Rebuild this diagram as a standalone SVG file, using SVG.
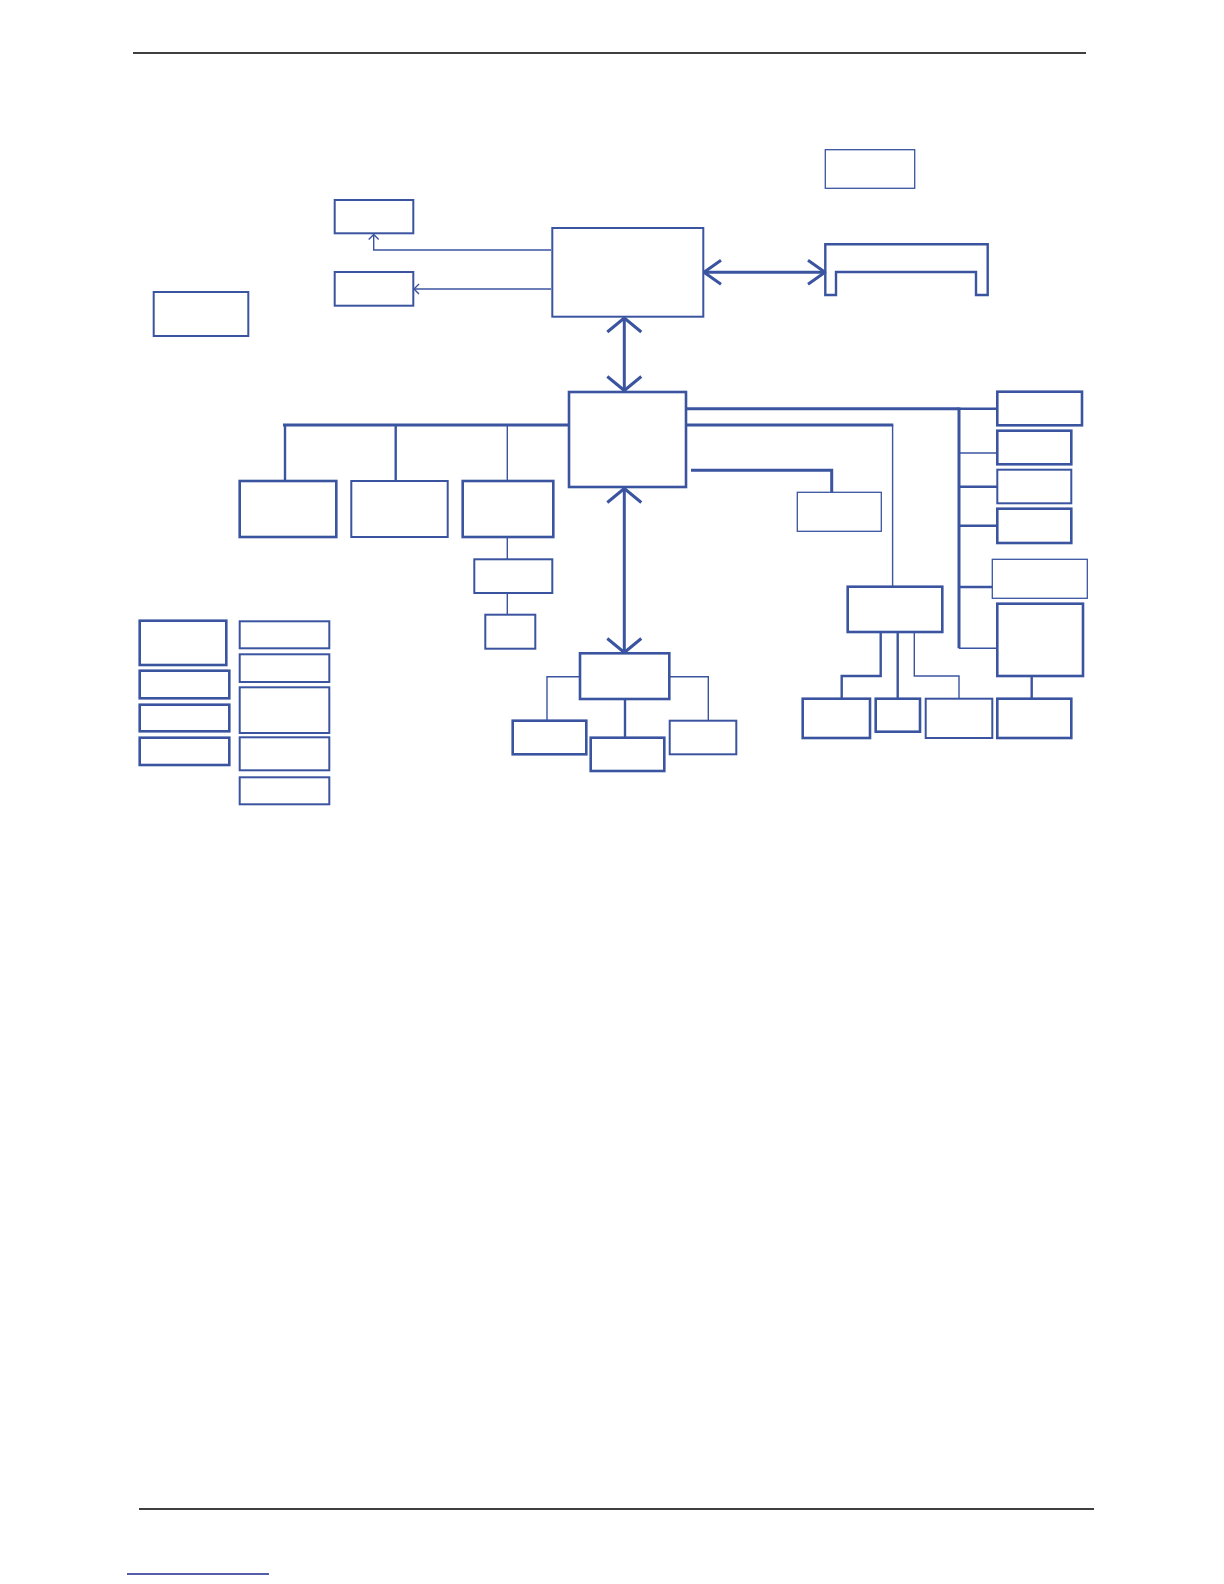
<svg xmlns="http://www.w3.org/2000/svg" width="1224" height="1584" viewBox="0 0 1224 1584">
<style>
.b{fill:#fff;stroke:#3b54a0;stroke-width:2}
.bk{fill:#fff;stroke:#3b54a0;stroke-width:2.6}
.bt{fill:#fff;stroke:#3b54a0;stroke-width:1.3}
.c{fill:none;stroke:#3b54a0;stroke-width:3;stroke-linejoin:miter}
.cm{fill:none;stroke:#3b54a0;stroke-width:2.4}
.ct{fill:none;stroke:#3b54a0;stroke-width:1.4}
</style>
<defs>
<marker id="av" markerUnits="userSpaceOnUse" markerWidth="50" markerHeight="50" viewBox="-25 -25 50 50" refX="0" refY="0" orient="auto-start-reverse" overflow="visible"><path d="M-14,-17 L0,0 L-14,17" fill="none" stroke="#3b54a0" stroke-width="3" stroke-linejoin="round"/></marker>
<marker id="ahz" markerUnits="userSpaceOnUse" markerWidth="50" markerHeight="50" viewBox="-25 -25 50 50" refX="0" refY="0" orient="auto-start-reverse" overflow="visible"><path d="M-17,-12 L0,0 L-17,12" fill="none" stroke="#3b54a0" stroke-width="3" stroke-linejoin="round"/></marker>
<marker id="as" markerUnits="userSpaceOnUse" markerWidth="20" markerHeight="20" viewBox="-10 -10 20 20" refX="0" refY="0" orient="auto" overflow="visible"><path d="M-5,-5 L0,0 L-5,5" fill="none" stroke="#3b54a0" stroke-width="1.4"/></marker>
</defs>
<line x1="133" y1="53" x2="1086" y2="53" stroke="#000" stroke-width="1.5"/>
<line x1="139" y1="1509" x2="1094" y2="1509" stroke="#000" stroke-width="1.5"/>
<line x1="127" y1="1574" x2="269" y2="1574" stroke="#1c2a8c" stroke-width="1.5"/>
<g id="connectors">
<polyline class="ct" points="551,250 373.7,250 373.7,234.5" marker-end="url(#as)"/>
<polyline class="ct" points="551,289 414,289" marker-end="url(#as)"/>
<line class="c" x1="704" y1="272.3" x2="825" y2="272.3" marker-start="url(#ahz)" marker-end="url(#ahz)"/>
<line class="c" x1="624.3" y1="318" x2="624.3" y2="390.5" marker-start="url(#av)" marker-end="url(#av)"/>
<line class="c" x1="624.3" y1="488.5" x2="624.3" y2="652.5" marker-start="url(#av)" marker-end="url(#av)"/>
<polyline class="c" points="686,408.7 959,408.7"/>
<polyline class="cm" points="959,408.7 997,408.7"/>
<polyline class="c" points="959,407.5 959,648.3"/>
<polyline class="ct" points="959,453 997,453"/>
<polyline class="cm" points="959,486.7 997,486.7"/>
<polyline class="cm" points="959,525.7 997,525.7"/>
<polyline class="cm" points="959,587 992,587"/>
<polyline class="ct" points="959,648.3 997,648.3"/>
<polyline class="c" points="686,425 893.3,425"/>
<polyline class="ct" points="892.6,425 892.6,586.7"/>
<polyline class="c" points="691,470.3 831.7,470.3 831.7,492.3"/>
<polyline class="c" points="283,425 569,425"/>
<polyline class="cm" points="285,425 285,481"/>
<polyline class="cm" points="395.7,425 395.7,481"/>
<polyline class="ct" points="507.3,425 507.3,481"/>
<polyline class="ct" points="507.3,537 507.3,559.3"/>
<polyline class="ct" points="507.3,593 507.3,614.7"/>
<polyline class="cm" points="880.7,632 880.7,676 841.7,676 841.7,698.7"/>
<polyline class="cm" points="897.7,632 897.7,698.7"/>
<polyline class="ct" points="914.3,632 914.3,676 959,676 959,698.7"/>
<polyline class="cm" points="1031.7,676 1031.7,698.7"/>
<polyline class="ct" points="580,676.7 547,676.7 547,720.7"/>
<polyline class="cm" points="625,699 625,737.7"/>
<polyline class="ct" points="669.3,676.7 708.3,676.7 708.3,720.7"/>
</g>
<g id="nA"><rect class="b" x="334.7" y="200" width="78.6" height="33.3"/></g>
<g id="nB"><rect class="b" x="334.7" y="272" width="78.6" height="33.7"/></g>
<g id="nC"><rect class="b" x="552.3" y="228" width="151" height="88.7"/></g>
<g id="nTop"><rect class="bt" x="825.3" y="149.7" width="89.4" height="38.6"/></g>
<g id="nBracket"><polygon class="cm" points="825.3,244.3 987.7,244.3 987.7,295 976,295 976,272 836,272 836,295 825.3,295"/></g>
<g id="nLeft"><rect class="b" x="153.7" y="292" width="94.6" height="44"/></g>
<g id="nD"><rect class="bk" x="569" y="392" width="117" height="95"/></g>
<g id="nE"><rect class="bt" x="797.3" y="492.3" width="84" height="39"/></g>
<g id="nF1"><rect class="bk" x="997.3" y="391.7" width="84.7" height="33.6"/></g>
<g id="nF2"><rect class="bk" x="997.3" y="430.7" width="74" height="33.6"/></g>
<g id="nF3"><rect class="b" x="997.3" y="469.7" width="74" height="33.6"/></g>
<g id="nF4"><rect class="bk" x="997.3" y="508.7" width="74" height="34.3"/></g>
<g id="nF5"><rect class="bt" x="992.3" y="559.3" width="95" height="39"/></g>
<g id="nF6"><rect class="bk" x="997.3" y="603.7" width="85.7" height="72.3"/></g>
<g id="nH"><rect class="bk" x="847.7" y="586.7" width="94.6" height="45.3"/></g>
<g id="nG1"><rect class="bk" x="802.7" y="698.7" width="67.3" height="39.3"/></g>
<g id="nG2"><rect class="bk" x="875.7" y="698.7" width="44.3" height="33"/></g>
<g id="nG3"><rect class="b" x="925.7" y="698.7" width="66.6" height="39.3"/></g>
<g id="nG4"><rect class="bk" x="997.3" y="698.7" width="74" height="39.3"/></g>
<g id="nI1"><rect class="bk" x="239.7" y="481" width="96.6" height="56"/></g>
<g id="nI2"><rect class="b" x="351.3" y="481" width="96.4" height="56"/></g>
<g id="nI3"><rect class="bk" x="462.7" y="481" width="90.6" height="56"/></g>
<g id="nJ"><rect class="b" x="474.3" y="559.3" width="78" height="33.7"/></g>
<g id="nK"><rect class="b" x="485.3" y="614.7" width="50" height="34"/></g>
<g id="nL1"><rect class="bk" x="139.7" y="620.7" width="86.6" height="44.3"/></g>
<g id="nL2"><rect class="bk" x="139.7" y="670.7" width="89.6" height="27.6"/></g>
<g id="nL3"><rect class="bk" x="139.7" y="704.7" width="89.6" height="26.6"/></g>
<g id="nL4"><rect class="bk" x="139.7" y="737.7" width="89.6" height="27.3"/></g>
<g id="nR1"><rect class="b" x="239.7" y="621.3" width="89.6" height="27"/></g>
<g id="nR2"><rect class="b" x="239.7" y="654.3" width="89.6" height="27.7"/></g>
<g id="nR3"><rect class="b" x="239.7" y="687.3" width="89.6" height="45.7"/></g>
<g id="nR4"><rect class="b" x="239.7" y="737.3" width="89.6" height="33"/></g>
<g id="nR5"><rect class="b" x="239.7" y="777.3" width="89.6" height="27"/></g>
<g id="nM"><rect class="bk" x="580" y="653.3" width="89.3" height="45.7"/></g>
<g id="nN1"><rect class="bk" x="512.7" y="720.7" width="73.6" height="33.6"/></g>
<g id="nN2"><rect class="bk" x="590.7" y="737.7" width="73.6" height="33.3"/></g>
<g id="nN3"><rect class="b" x="669.7" y="720.7" width="66.6" height="33.6"/></g>
</svg>
